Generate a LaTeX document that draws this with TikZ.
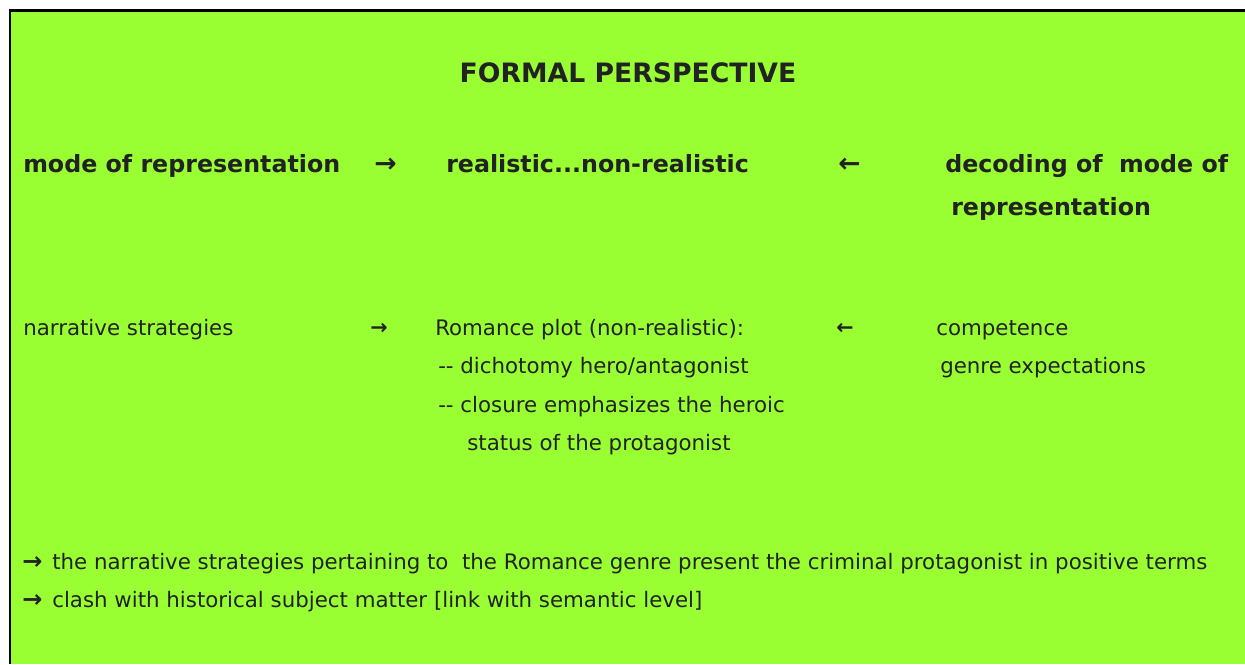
\documentclass[tikz,border=0pt]{standalone}
\usepackage{fontspec}
\setmainfont{DejaVu Sans}
\usepackage{xcolor}
\usepackage{tikz}
\definecolor{FormalGreen}{HTML}{99FF33}
\definecolor{FormalInk}{HTML}{222222}
\definecolor{FormalFrame}{HTML}{000000}

\begin{document}
\begin{tikzpicture}[x=0.75pt,y=-0.75pt,
    plaintext/.style={anchor=base west, inner sep=0pt, text=FormalInk, font=\fontsize{16pt}{19pt}\selectfont},
    strongtext/.style={anchor=base west, inner sep=0pt, text=FormalInk, font=\fontsize{17.8pt}{21pt}\selectfont\bfseries},
    titletext/.style={anchor=base, inner sep=0pt, text=FormalInk, font=\fontsize{20pt}{24pt}\selectfont\bfseries},
    arrowglyph/.style={anchor=base west, inner sep=0pt, text=FormalInk, font=\fontsize{#1}{#1}\selectfont\bfseries}]
        \useasboundingbox (0,0) rectangle (1245,664);
        \fill[white] (0,0) rectangle (1245,664);
        \fill[FormalGreen] (10,10.5) rectangle (1245,664);
        \draw[FormalFrame, line width=1.9pt] (10,664) -- (10,10.5) -- (1245,10.5);
        % heading row
        \node[titletext] (title) at (628,82) {FORMAL PERSPECTIVE};
        \node[strongtext] (mode) at (23,172) {mode of representation};
        \node[arrowglyph=20pt] (modeArrow) at (374,172) {→};
        \node[strongtext] (scale) at (446,172) {realistic...non-realistic};
        \node[arrowglyph=20pt] (decodeArrow) at (838,172) {←};
        \node[strongtext] (decodeA) at (945,172) {decoding of~ mode of};
        \node[strongtext] (decodeB) at (951,215) {representation};
        % strategies row
        \node[plaintext] (strategies) at (23,335) {narrative strategies};
        \node[arrowglyph=15.5pt] (strategiesArrow) at (370,334) {→};
        \node[plaintext] (romance) at (435,335) {Romance plot (non-realistic):};
        \node[plaintext] (dichotomy) at (438,373.5) {-{}- dichotomy hero/antagonist};
        \node[plaintext] (closure) at (438,412) {-{}- closure emphasizes the heroic};
        \node[plaintext] (status) at (467,450.5) {status of the protagonist};
        \node[arrowglyph=15.5pt] (competenceArrow) at (836,334) {←};
        \node[plaintext] (competence) at (936,335) {competence};
        \node[plaintext] (genre) at (940,373.5) {genre expectations};
        % conclusions
        \node[arrowglyph=18pt] (concludeArrowA) at (22,569) {→};
        \node[plaintext] (concludeA) at (52,569) {the narrative strategies pertaining to~ the Romance genre present the criminal protagonist in positive terms};
        \node[arrowglyph=18pt] (concludeArrowB) at (22,607.5) {→};
        \node[plaintext] (concludeB) at (52,607.5) {clash with historical subject matter [link with semantic level]};
      \end{tikzpicture}
\end{document}
